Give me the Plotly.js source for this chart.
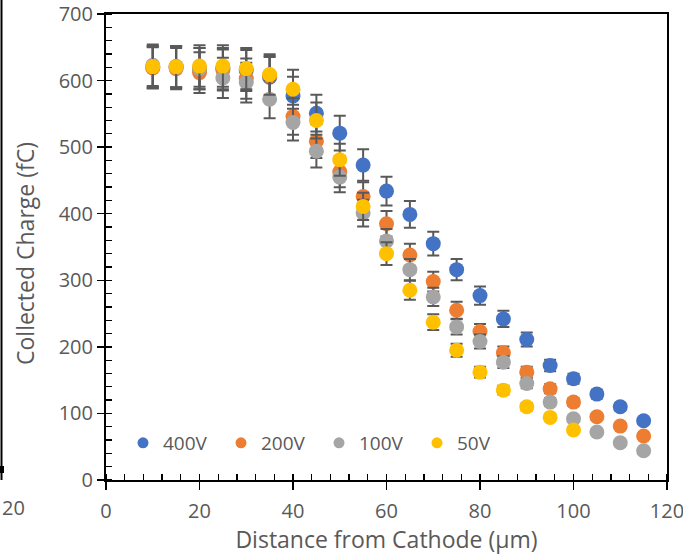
<!DOCTYPE html>
<html>
<head>
<meta charset="utf-8">
<script src="https://cdn.plot.ly/plotly-3.0.1.min.js"></script>
<style>html,body{margin:0;padding:0;background:#fff;}#chart{width:683px;height:555px;}</style>
</head>
<body>
<div id="chart"></div>
<script>
// Data
const distance = [10,15,20,25,30,35,40,45,50,55,60,65,70,75,80,85,90,95,100,105,110,115];
const distance50 = [10,15,20,25,30,35,40,45,50,55,60,65,70,75,80,85,90,95,100];
const q400 = [620,621,618,618,615,605,577,551,521,473,434,399,355,316,277,242,211,172,152,129,110,89];
const q200 = [619,618,612,616,603,607,546,509,463,426,385,338,298,255,223,191,162,137,117,95,81,66];
const q100 = [623,620,618,604,597,572,537,494,455,401,359,316,275,230,208,177,145,117,92,72,56,44];
const q50  = [621,621,622,622,618,609,587,540,481,411,340,285,237,195,162,135,110,94,75];
const seriesNames = ['400V','200V','100V','50V'];
const errorPercent = 5;
const xTicks = [0,20,40,60,80,100,120];
const yTicks = [0,100,200,300,400,500,600,700];
const xTitle = 'Distance from Cathode (µm)';
const yTitle = 'Collected Charge (fC)';

const colors = ['#4472C4','#ED7D31','#A5A5A5','#FFC000'];
const textColor = '#595959';
const FONT = '"Open Sans", sans-serif';
const TICK = 20, TITLE = 23, LEG = 19;

const xs = [distance, distance, distance, distance50];
const ys = [q400, q200, q100, q50];

const traces = [];
for (let i = 0; i < 4; i++) {
  traces.push({
    type: 'scatter', mode: 'markers', x: xs[i], y: ys[i], name: seriesNames[i],
    showlegend: false,
    marker: {color: colors[i], size: 15, line: {width: 0}},
    error_y: {type: 'percent', value: errorPercent, visible: true, color: '#595959', thickness: 2, width: 6}
  });
}
for (let i = 0; i < 4; i++) {
  traces.push({
    type: 'scatter', mode: 'markers', x: [null], y: [null], name: seriesNames[i],
    showlegend: true, marker: {color: colors[i], size: 11}
  });
}

const W = 683, H = 555, L = 106, R = 16, T = 14, B = 75;
const pw = W - L - R, ph = H - T - B;
const px2x = p => (p - L) / pw;
const py2y = p => (H - B - p) / ph;

const layout = {
  width: W, height: H,
  margin: {l: L, r: R, t: T, b: B, pad: 0},
  paper_bgcolor: '#fff', plot_bgcolor: '#fff',
  font: {family: FONT, color: textColor, size: TICK},
  showlegend: true,
  legend: {
    orientation: 'h', x: px2x(123), y: py2y(443), xanchor: 'left', yanchor: 'middle',
    font: {family: FONT, size: LEG, color: textColor},
    entrywidth: 53, entrywidthmode: 'pixels', bgcolor: 'rgba(0,0,0,0)', itemwidth: 30
  },
  xaxis: {
    range: [0, 120], tickvals: xTicks, ticktext: xTicks.map(String),
    ticks: 'outside', ticklen: 8, tickwidth: 1.5, tickcolor: '#000',
    showline: true, linecolor: '#000', linewidth: 2, mirror: true,
    showgrid: false, zeroline: false, ticklabeloverflow: 'allow',
    minor: {dtick: 4, tick0: 0, ticks: 'inside', ticklen: 6, tickwidth: 1.3, tickcolor: '#000', showgrid: false},
    tickfont: {family: FONT, size: TICK, color: textColor},
    ticklabelstandoff: 4,
    title: {text: xTitle, font: {family: FONT, size: TITLE, color: textColor}, standoff: 8}
  },
  yaxis: {
    range: [0, 700], tickvals: yTicks, ticktext: yTicks.map(String), ticksuffix: '\u00a0\u00a0',
    ticks: 'outside', ticklen: 7, tickwidth: 1.5, tickcolor: '#000',
    showline: true, linecolor: '#000', linewidth: 2, mirror: true,
    showgrid: false, zeroline: false, ticklabeloverflow: 'allow',
    minor: {dtick: 20, tick0: 0, ticks: 'inside', ticklen: 6, tickwidth: 1.3, tickcolor: '#000', showgrid: false},
    tickfont: {family: FONT, size: TICK, color: textColor}
  },
  xaxis2: {
    overlaying: 'x', anchor: 'y', side: 'bottom', range: [0, 120], tickvals: xTicks,
    ticks: 'inside', ticklen: 8, tickwidth: 1.5, tickcolor: '#000', showticklabels: false,
    showline: false, showgrid: false, zeroline: false
  },
  yaxis2: {
    overlaying: 'y', anchor: 'x', side: 'left', range: [0, 700], tickvals: yTicks,
    ticks: 'inside', ticklen: 7, tickwidth: 1.5, tickcolor: '#000', showticklabels: false,
    showline: false, showgrid: false, zeroline: false
  },
  shapes: [
    {type: 'line', xref: 'paper', yref: 'paper', x0: px2x(1.5), x1: px2x(1.5), y0: py2y(0), y1: py2y(480), line: {color: '#000', width: 2}},
    {type: 'line', xref: 'paper', yref: 'paper', x0: px2x(2), x1: px2x(2), y0: py2y(466), y1: py2y(473), line: {color: '#000', width: 4}}
  ],
  annotations: [
    {xref: 'paper', yref: 'paper', x: px2x(25), y: py2y(254), xanchor: 'center', yanchor: 'middle', showarrow: false,
     textangle: -90, text: yTitle, font: {family: FONT, size: TITLE, color: textColor}},
    {xref: 'paper', yref: 'paper', x: px2x(0), y: py2y(507), xanchor: 'left', yanchor: 'middle', showarrow: false,
     text: '20', font: {family: FONT, size: TICK, color: textColor}}
  ]
};

Plotly.newPlot('chart', traces, layout, {displayModeBar: false, staticPlot: true});
</script>
</body>
</html>
